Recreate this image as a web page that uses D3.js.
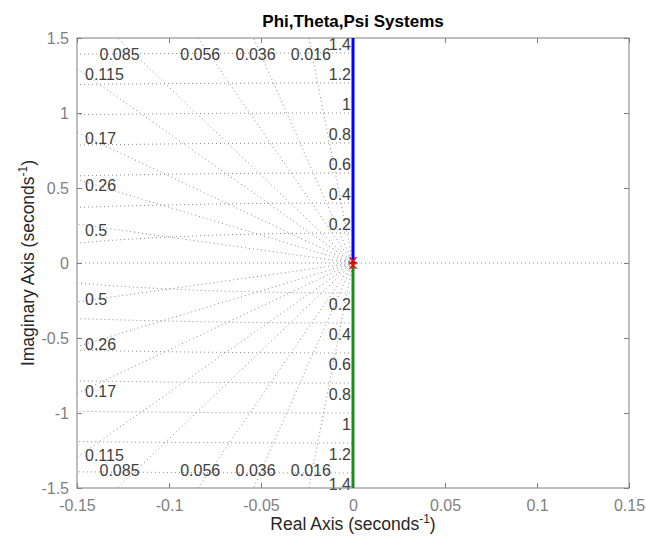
<!DOCTYPE html>
<html>
<head>
<meta charset="utf-8">
<script src="https://d3js.org/d3.v7.min.js"></script>
<style>
body { margin: 0; background: #fff; }
svg { display: block; font-family: "Liberation Sans", Arial, Helvetica, sans-serif; }
</style>
</head>
<body>
<div id="chart"></div>
<script>
// axis ticks
var xTicks = [-0.15, -0.1, -0.05, 0, 0.05, 0.1, 0.15];
var xTickLabels = ['-0.15', '-0.1', '-0.05', '0', '0.05', '0.1', '0.15'];
var yTicks = [-1.5, -1, -0.5, 0, 0.5, 1, 1.5];
var yTickLabels = ['-1.5', '-1', '-0.5', '0', '0.5', '1', '1.5'];

// sgrid values
var zetaValues = [0.016, 0.036, 0.056, 0.085, 0.115, 0.17, 0.26, 0.5];
var zetaLabels = ['0.016', '0.036', '0.056', '0.085', '0.115', '0.17', '0.26', '0.5'];
var wnValues = [0.2, 0.4, 0.6, 0.8, 1, 1.2, 1.4];
var wnLabels = ['0.2', '0.4', '0.6', '0.8', '1', '1.2', '1.4'];

// root locus branches (real, imag)
var branchUp = [[0, 0], [0, 1.5]];
var branchDown = [[0, 0], [0, -1.5]];
var poles = [[0, 0.015], [0, -0.015]];

var margin = {top: 38, right: 17, bottom: 55, left: 77};
var fullWidth = 646;
var fullHeight = 543;
var width = fullWidth - margin.left - margin.right;
var height = fullHeight - margin.top - margin.bottom;

var svg = d3.select('#chart').append('svg')
  .attr('width', fullWidth)
  .attr('height', fullHeight);

var g = svg.append('g')
  .attr('transform', 'translate(' + margin.left + ',' + margin.top + ')');

var x = d3.scaleLinear().domain([-0.15, 0.15]).range([0, width]);
var y = d3.scaleLinear().domain([-1.5, 1.5]).range([height, 0]);

svg.append('defs').append('clipPath').attr('id', 'plotclip')
  .append('rect').attr('width', width).attr('height', height);

var line = d3.line()
  .x(function(d) { return x(d[0]); })
  .y(function(d) { return y(d[1]); });

var gridColor = '#8a8a8a';
var grid = g.append('g').attr('clip-path', 'url(#plotclip)');

function dotted(sel) {
  return sel.attr('fill', 'none')
    .attr('stroke', gridColor)
    .attr('stroke-width', 1)
    .attr('stroke-dasharray', '1,3');
}

// damping lines
var xMin = -0.15, yMax = 1.5;
zetaValues.forEach(function(z) {
  var s = Math.sqrt(1 - z * z);
  var t = Math.min(yMax / s, -xMin / z);
  [1, -1].forEach(function(sign) {
    grid.append('path').datum([[0, 0], [-z * t, sign * s * t]])
      .attr('d', line).call(dotted);
  });
});
// real axis
grid.append('path').datum([[-0.15, 0], [0.15, 0]]).attr('d', line).call(dotted);

// natural frequency circles (left half plane)
wnValues.forEach(function(wn) {
  var pts = d3.range(0, 181).map(function(i) {
    var a = Math.PI / 2 + Math.PI * i / 180;
    return [wn * Math.cos(a), wn * Math.sin(a)];
  });
  grid.append('path').datum(pts).attr('d', line).call(dotted);
});

// grid labels
var labelColor = '#404040';
var labels = g.append('g')
  .attr('font-size', 16)
  .attr('fill', labelColor);

zetaValues.forEach(function(z, i) {
  var s = Math.sqrt(1 - z * z);
  var t = Math.min(yMax / s, -xMin / z);
  var ex = -z * t, ey = s * t;
  if (ey >= yMax - 1e-9) {
    labels.append('text').attr('x', x(ex) + 2).attr('y', 16)
      .attr('text-anchor', 'middle').attr('dominant-baseline', 'central')
      .text(zetaLabels[i]);
    labels.append('text').attr('x', x(ex) + 2).attr('y', height - 18)
      .attr('text-anchor', 'middle').attr('dominant-baseline', 'central')
      .text(zetaLabels[i]);
  } else {
    labels.append('text').attr('x', 8).attr('y', y(ey) + 6)
      .attr('dominant-baseline', 'central')
      .text(zetaLabels[i]);
    labels.append('text').attr('x', 8).attr('y', y(-ey) - 2)
      .attr('dominant-baseline', 'central')
      .text(zetaLabels[i]);
  }
});

wnValues.forEach(function(wn, i) {
  labels.append('text').attr('x', x(0) - 2).attr('y', y(wn) - 9)
    .attr('text-anchor', 'end').attr('dominant-baseline', 'central')
    .text(wnLabels[i]);
  labels.append('text').attr('x', x(0) - 2).attr('y', y(-wn) + 11)
    .attr('text-anchor', 'end').attr('dominant-baseline', 'central')
    .text(wnLabels[i]);
});

// axes
var axisColor = '#7f7f7f';
function styleAxis(sel) {
  sel.select('.domain').remove();
  sel.selectAll('.tick line').attr('stroke', axisColor);
  sel.selectAll('.tick text').attr('fill', axisColor)
    .attr('font-size', 16)
    .attr('font-family', '"Liberation Sans", Arial, Helvetica, sans-serif');
}

g.append('g')
  .attr('transform', 'translate(0,' + height + ')')
  .call(d3.axisBottom(x).tickValues(xTicks)
    .tickFormat(function(d, i) { return xTickLabels[i]; })
    .tickSizeInner(-5).tickSizeOuter(0).tickPadding(12))
  .call(styleAxis);

g.append('g')
  .call(d3.axisTop(x).tickValues(xTicks).tickFormat('')
    .tickSizeInner(-5).tickSizeOuter(0))
  .call(styleAxis);

g.append('g')
  .call(d3.axisLeft(y).tickValues(yTicks)
    .tickFormat(function(d, i) { return yTickLabels[i]; })
    .tickSizeInner(-5).tickSizeOuter(0).tickPadding(8))
  .call(styleAxis);

g.append('g')
  .attr('transform', 'translate(' + width + ',0)')
  .call(d3.axisRight(y).tickValues(yTicks).tickFormat('')
    .tickSizeInner(-5).tickSizeOuter(0))
  .call(styleAxis);

g.append('rect')
  .attr('width', width).attr('height', height)
  .attr('fill', 'none').attr('stroke', axisColor).attr('stroke-width', 1);

// locus
var locus = g.append('g').attr('clip-path', 'url(#plotclip)');
locus.append('path').datum(branchUp).attr('d', line)
  .attr('stroke', '#0000ff').attr('stroke-width', 3).attr('fill', 'none');
locus.append('path').datum(branchDown).attr('d', line)
  .attr('stroke', '#1a8a1a').attr('stroke-width', 3).attr('fill', 'none');

var r = 3.5;
locus.selectAll('path.pole').data(poles).enter().append('path')
  .classed('pole', true)
  .attr('d', function(d) {
    var cx = x(d[0]), cy = y(d[1]);
    return 'M' + (cx - r) + ',' + (cy - r) + 'L' + (cx + r) + ',' + (cy + r) +
           'M' + (cx - r) + ',' + (cy + r) + 'L' + (cx + r) + ',' + (cy - r);
  })
  .attr('stroke', '#ff0000').attr('stroke-width', 1.5);

// title and axis labels
svg.append('text')
  .attr('x', margin.left + width / 2).attr('y', 27)
  .attr('text-anchor', 'middle')
  .attr('font-size', 17).attr('font-weight', 'bold').attr('fill', '#000')
  .text('Phi,Theta,Psi Systems');

var xl = svg.append('text')
  .attr('x', margin.left + width / 2).attr('y', 530)
  .attr('text-anchor', 'middle')
  .attr('font-size', 17.5).attr('fill', '#262626');
xl.append('tspan').text('Real Axis (seconds');
xl.append('tspan').attr('font-size', 12).attr('dy', -7).text('-1');
xl.append('tspan').attr('dy', 7).text(')');

var yl = svg.append('text')
  .attr('transform', 'translate(34,' + (margin.top + height / 2) + ')rotate(-90)')
  .attr('text-anchor', 'middle')
  .attr('font-size', 17.5).attr('fill', '#262626');
yl.append('tspan').text('Imaginary Axis (seconds');
yl.append('tspan').attr('font-size', 12).attr('dy', -7).text('-1');
yl.append('tspan').attr('dy', 7).text(')');
</script>
</body>
</html>
